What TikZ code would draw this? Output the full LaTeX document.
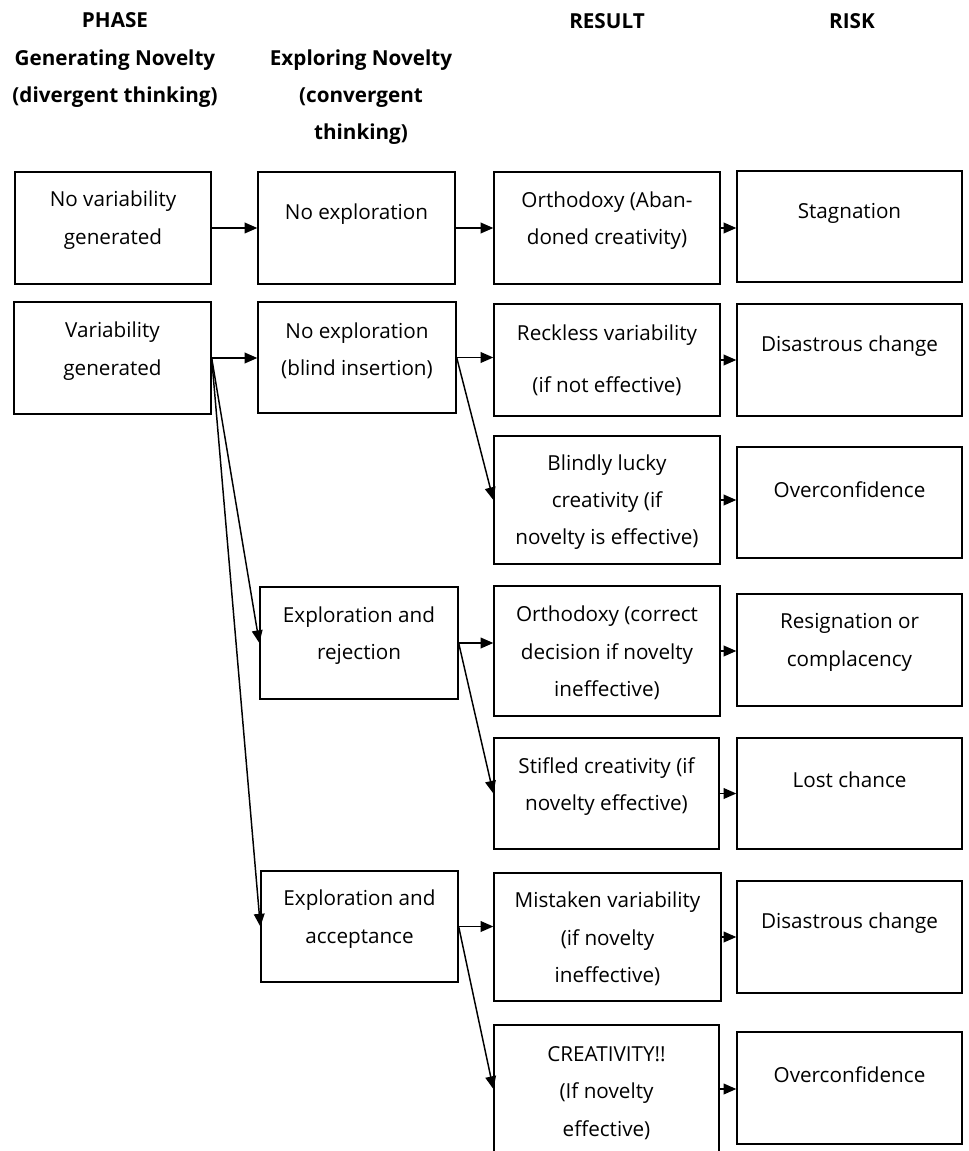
\documentclass[tikz,border=0pt]{standalone}
\usepackage{fontspec}
\setmainfont{Open Sans}
\usetikzlibrary{fit,arrows.meta}
\begin{document}
\begin{tikzpicture}[x=0.75pt,y=-0.75pt,
  box/.style={draw, line width=1pt, inner sep=0pt, rectangle},
  txt/.style={align=center, inner sep=0pt, font=\fontsize{15.5}{28}\selectfont},
  hdr/.style={align=center, inner sep=0pt, font=\bfseries\fontsize{15.5}{28}\selectfont},
  arr/.style={line width=1.1pt, -{Triangle[length=9.5pt,width=8pt]}}]
\useasboundingbox (0,0) rectangle (968,1151);

% headers
\node[hdr] (hphase) at (115,20) {PHASE};
\node[hdr] (hgen) at (115,78.5) {Generating Novelty\\(divergent thinking)};
\node[hdr] (hexp) at (361,97) {Exploring Novelty\\(convergent\\thinking)};
\node[hdr] (hres) at (607,21) {RESULT};
\node[hdr] (hrisk) at (852,21) {RISK};

% column 1
\node[box, fit={(15,172)(211,284)}] (g1) {};
\node[box, fit={(14,302)(211,414)}] (g2) {};
% column 2
\node[box, fit={(258,172)(455,284)}] (e1) {};
\node[box, fit={(258,302)(456,413)}] (e2) {};
\node[box, fit={(260,587)(458,699)}] (e3) {};
\node[box, fit={(261,871)(458,982)}] (e4) {};
% column 3
\node[box, fit={(494,172)(720,284)}] (r1) {};
\node[box, fit={(494,304)(720,416)}] (r2) {};
\node[box, fit={(494,436)(720,564)}] (r3) {};
\node[box, fit={(494,586)(720,716)}] (r4) {};
\node[box, fit={(494,738)(719,849)}] (r5) {};
\node[box, fit={(494,873)(721,1001)}] (r6) {};
\node[box, fit={(494,1025)(719,1153)}] (r7) {};
% column 4
\node[box, fit={(737,171)(962,282)}] (k1) {};
\node[box, fit={(737,304)(962,416)}] (k2) {};
\node[box, fit={(737,447)(962,558)}] (k3) {};
\node[box, fit={(737,594)(962,706)}] (k4) {};
\node[box, fit={(737,738)(962,849)}] (k5) {};
\node[box, fit={(737,881)(962,993)}] (k6) {};
\node[box, fit={(737,1032)(962,1144)}] (k7) {};

% texts
\node[txt] (g1t) at (g1.center |- 0,220) {No variability\\generated};
\node[txt] (g2t) at (g2.center |- 0,351) {Variability\\generated};
\node[txt] (e1t) at (e1.center |- 0,214) {No exploration};
\node[txt] (e2t) at (e2.center |- 0,351) {No exploration\\(blind insertion)};
\node[txt] (e3t) at (e3.center |- 0,635.5) {Exploration and\\rejection};
\node[txt] (e4t) at (e4.center |- 0,919) {Exploration and\\acceptance};
\node[txt] (r1t) at (r1.center |- 0,220.5) {Orthodoxy (Aban-\\doned creativity)};
\node[txt] (r2t) at (r2.center |- 0,360) {Reckless variability\\[11pt](if not effective)};
\node[txt] (r3t) at (r3.center |- 0,502) {Blindly lucky\\creativity (if\\novelty is effective)};
\node[txt] (r4t) at (r4.center |- 0,653) {Orthodoxy (correct\\decision if novelty\\ineffective)};
\node[txt] (r5t) at (r5.center |- 0,786.5) {Stifled creativity (if\\novelty effective)};
\node[txt] (r6t) at (r6.center |- 0,939) {Mistaken variability\\(if novelty\\ineffective)};
\node[txt] (r7t) at (r7.center |- 0,1093) {CREATIVITY!!\\(If novelty\\effective)};
\node[txt] (k1t) at (k1.center |- 0,213) {Stagnation};
\node[txt] (k2t) at (k2.center |- 0,346) {Disastrous change};
\node[txt] (k3t) at (k3.center |- 0,490) {Overconfidence};
\node[txt] (k4t) at (k4.center |- 0,642.5) {Resignation or\\complacency};
\node[txt] (k5t) at (k5.center |- 0,780) {Lost chance};
\node[txt] (k6t) at (k6.center |- 0,923) {Disastrous change};
\node[txt] (k7t) at (k7.center |- 0,1075) {Overconfidence};

% arrows
\draw[arr] (g1.east) -- (g1.east -| e1.west);
\draw[arr] (e1.east) -- (e1.east -| r1.west);
\draw[arr] (r1.east) -- (r1.east -| k1.west);
\draw[arr] (g2.east) -- (g2.east -| e2.west);
\draw[arr] (g2.east) -- (e3.west);
\draw[arr] (g2.east) -- (e4.west);
\draw[arr] (e2.east) -- (e2.east -| r2.west);
\draw[arr] (e2.east) -- (r3.west);
\draw[arr] (r2.east) -- (r2.east -| k2.west);
\draw[arr] (r3.east) -- (r3.east -| k3.west);
\draw[arr] (e3.east) -- (e3.east -| r4.west);
\draw[arr] (e3.east) -- (r5.west);
\draw[arr] (r4.east) -- (r4.east -| k4.west);
\draw[arr] (r5.east) -- (r5.east -| k5.west);
\draw[arr] (e4.east) -- (e4.east -| r6.west);
\draw[arr] (e4.east) -- (r7.west);
\draw[arr] (r6.east) -- (r6.east -| k6.west);
\draw[arr] (r7.east) -- (r7.east -| k7.west);
\end{tikzpicture}
\end{document}
